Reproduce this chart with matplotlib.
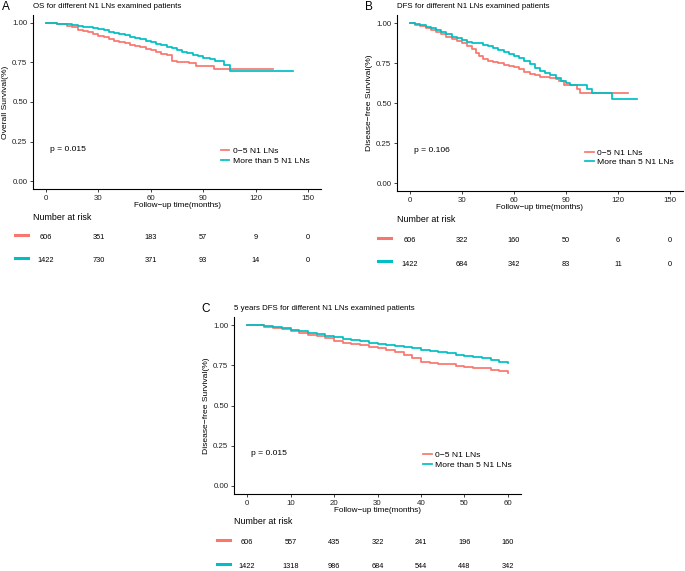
import matplotlib
matplotlib.use("Agg")
import matplotlib.pyplot as plt
from matplotlib.lines import Line2D
from matplotlib.transforms import blended_transform_factory

plt.rcParams["font.family"] = ["Liberation Sans", "DejaVu Sans"]
RED, CYAN = "#F8766D", "#00BFC4"
W, H = 685, 571
GROUPS = ["0\u22125 N1 LNs", "More than 5 N1 LNs"]

# ---- panel A: OS (months, survival)
A_RED_T = [0, 3, 6, 9, 12, 15, 18, 21, 24, 27, 30, 33, 36, 39, 42, 45, 48, 51, 54, 57, 60, 63, 66, 69,
           72, 75, 78, 82, 86, 90, 93, 96, 130]
A_RED_S = [1.0, 0.998, 0.995, 0.99, 0.983, 0.972, 0.958, 0.948, 0.94, 0.93, 0.92, 0.908, 0.898, 0.888,
           0.879, 0.87, 0.862, 0.855, 0.846, 0.835, 0.826, 0.815, 0.804, 0.795, 0.757, 0.755, 0.752,
           0.745, 0.728, 0.727, 0.725, 0.707, 0.707]
A_CYAN_T = [0, 3, 6, 9, 12, 15, 18, 21, 24, 27, 30, 33, 36, 39, 42, 45, 48, 51, 54, 57, 60, 63, 66, 69,
            72, 75, 78, 81, 84, 87, 90, 94, 97, 101.7, 105.5, 141.5]
A_CYAN_S = [1.0, 0.998, 0.996, 0.993, 0.99, 0.986, 0.982, 0.977, 0.972, 0.966, 0.96, 0.953, 0.945, 0.938,
            0.93, 0.921, 0.913, 0.905, 0.897, 0.888, 0.878, 0.868, 0.858, 0.85, 0.84, 0.828, 0.815,
            0.808, 0.8, 0.79, 0.777, 0.77, 0.762, 0.734, 0.698, 0.698]
A_BREAKS = [0, 30, 60, 90, 120, 150]
A_RISK = [[606, 351, 183, 57, 9, 0], [1422, 730, 371, 93, 14, 0]]

# ---- panel B: DFS
B_RED_T = [0, 3, 6, 9, 12, 15, 18, 21, 24, 27, 30, 33, 36, 38, 40, 42, 45, 48, 51, 54, 57, 60, 63, 66,
           69, 72, 75, 78, 81, 84, 86, 88.6, 96.4, 98.3, 125.7]
B_RED_S = [1.0, 0.99, 0.98, 0.968, 0.955, 0.942, 0.93, 0.912, 0.898, 0.887, 0.874, 0.858, 0.84, 0.815,
           0.792, 0.776, 0.764, 0.756, 0.75, 0.74, 0.732, 0.724, 0.71, 0.696, 0.683, 0.675, 0.665, 0.66,
           0.657, 0.652, 0.64, 0.615, 0.589, 0.563, 0.563]
B_CYAN_T = [0, 3, 6, 9, 12, 15, 18, 21, 24, 27, 30, 33, 36, 39, 42, 45, 48, 51, 54, 57, 60, 63, 66, 69,
            72, 75, 78, 81, 84, 87, 90, 92.5, 102, 105, 116.5, 131.2]
B_CYAN_S = [1.0, 0.995, 0.988, 0.978, 0.968, 0.956, 0.944, 0.93, 0.915, 0.904, 0.893, 0.884, 0.878,
            0.874, 0.865, 0.855, 0.843, 0.832, 0.82, 0.808, 0.795, 0.78, 0.76, 0.742, 0.718, 0.7, 0.688,
            0.672, 0.658, 0.64, 0.626, 0.615, 0.589, 0.563, 0.526, 0.526]
B_BREAKS = [0, 30, 60, 90, 120, 150]
B_RISK = [[606, 322, 160, 50, 6, 0], [1422, 684, 342, 83, 11, 0]]

# ---- panel C: 5-year DFS
C_T = [0, 2, 4, 6, 8, 10, 12, 14, 16, 18, 20, 22, 24, 26, 28, 30, 32, 34, 36, 38, 40, 42, 44, 46, 48,
       50, 52, 54, 56, 58, 60]
C_RED_S = [1.0, 0.998, 0.99, 0.983, 0.975, 0.965, 0.95, 0.94, 0.932, 0.922, 0.9, 0.89, 0.884, 0.876,
           0.866, 0.855, 0.843, 0.83, 0.815, 0.795, 0.772, 0.766, 0.76, 0.756, 0.748, 0.742, 0.736,
           0.73, 0.722, 0.712, 0.7]
C_CYAN_S = [1.0, 0.998, 0.993, 0.987, 0.98, 0.972, 0.963, 0.953, 0.943, 0.934, 0.925, 0.915, 0.907,
            0.9, 0.89, 0.88, 0.876, 0.87, 0.862, 0.856, 0.848, 0.84, 0.833, 0.825, 0.815, 0.807, 0.8,
            0.793, 0.782, 0.772, 0.762]
C_BREAKS = [0, 10, 20, 30, 40, 50, 60]
C_RISK = [[606, 557, 435, 322, 241, 196, 160], [1422, 1318, 986, 684, 544, 448, 342]]

fig = plt.figure(figsize=(W / 100, H / 100), dpi=100)


def fx(px):
    return px / W


def fy(py):
    return 1 - py / H


def panel(box, letter, letter_x, title, ylabel, curves, breaks, risk, pval, leg_t, tab_y, dash_x):
    l, t, r, b = box
    ax = fig.add_axes([fx(l), fy(b), (r - l) / W, (b - t) / H])
    span = breaks[-1] - breaks[0]
    for (xs, ys), c in zip(curves, (RED, CYAN)):
        ax.plot(xs, ys, drawstyle="steps-post", color=c, lw=1.25)
    ax.set_xlim(-0.05 * span, breaks[-1] + 0.05 * span)
    ax.set_ylim(-0.05, 1.05)
    ax.set_xticks(breaks)
    ax.set_yticks([0, 0.25, 0.5, 0.75, 1.0], ["0.00", "0.25", "0.50", "0.75", "1.00"])
    for s in ("top", "right"):
        ax.spines[s].set_visible(False)
    for s in ("left", "bottom"):
        ax.spines[s].set_linewidth(0.8)
    ax.tick_params(labelsize=5.7, length=2.5, width=0.6, pad=1.5, colors="#222222")
    ax.set_xlabel("Follow\u2212up time(months)", fontsize=5.9, labelpad=0.3)
    ax.set_ylabel(ylabel, fontsize=6.1, labelpad=2)
    ax.text(2.5 * span / 150, 0.2, "p = " + pval, fontsize=6.1, va="center")
    hs = [Line2D([], [], color=c, lw=1.25) for c in (RED, CYAN)]
    ax.legend(hs, GROUPS, loc="center left", bbox_to_anchor=(leg_t, 0.16), bbox_transform=ax.transData,
              frameon=False, fontsize=6.1, handlelength=1.0, handletextpad=0.45, labelspacing=0.2,
              borderpad=0, borderaxespad=0)
    fig.text(fx(l), fy(t - 8), title, fontsize=5.7, va="center")
    fig.text(fx(letter_x), fy(t - 8), letter, fontsize=8.5, va="center")
    # risk table
    tr = blended_transform_factory(ax.transData, fig.transFigure)
    fig.text(fx(l), fy(tab_y[0]), "Number at risk", fontsize=6.4, va="center")
    for row, yy, c in zip(risk, tab_y[1:], (RED, CYAN)):
        for x, n in zip(breaks, row):
            ax.text(x, fy(yy), str(n), transform=tr, ha="center", va="center", fontsize=5.3,
                    clip_on=False)
        fig.add_artist(Line2D([fx(dash_x[0]), fx(dash_x[1])], [fy(yy - 3)] * 2, color=c, lw=2.2,
                              transform=fig.transFigure))
    return ax


panel((33, 15, 321, 189), "A", 2, "OS for different N1 LNs examined patients", "Overall Survival(%)",
      [(A_RED_T, A_RED_S), (A_CYAN_T, A_CYAN_S)], A_BREAKS, A_RISK, "0.015", 100, (217, 238, 261),
      (15, 28))
panel((397, 15, 683, 191), "B", 365, "DFS for different N1 LNs examined patients",
      "Disease\u2212free Survival(%)", [(B_RED_T, B_RED_S), (B_CYAN_T, B_CYAN_S)], B_BREAKS, B_RISK,
      "0.106", 101, (219, 241, 264), (378, 391))
panel((234, 317, 521, 494), "C", 201, "5 years DFS for different N1 LNs examined patients",
      "Disease\u2212free Survival(%)", [(C_T, C_RED_S), (C_T, C_CYAN_S)], C_BREAKS, C_RISK, "0.015",
      40.5, (522, 543, 567), (217, 230))

fig.savefig("out.png", dpi=100)
